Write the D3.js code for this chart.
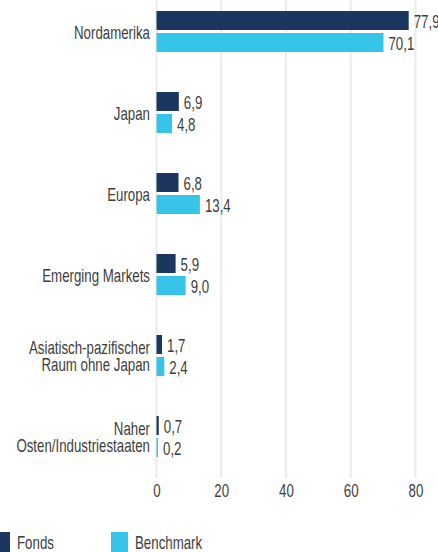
<!DOCTYPE html>
<html>
<head>
<meta charset="utf-8">
<script src="https://cdn.jsdelivr.net/npm/d3@7"></script>
<style>
  html, body { margin: 0; padding: 0; background: #fff; overflow: hidden; }
  svg { display: block; }
</style>
</head>
<body>
<div id="chart"></div>
<script>
// Regionen-Allokation Fonds vs. Benchmark (in %)
const categories = [
  ['Nordamerika'],
  ['Japan'],
  ['Europa'],
  ['Emerging Markets'],
  ['Asiatisch-pazifischer', 'Raum ohne Japan'],
  ['Naher', 'Osten/Industriestaaten']
];
const seriesNames = ['Fonds', 'Benchmark'];
const fondsValues = [77.9, 6.9, 6.8, 5.9, 1.7, 0.7];
const benchmarkValues = [70.1, 4.8, 13.4, 9.0, 2.4, 0.2];
const xTicks = [0, 20, 40, 60, 80];

const width = 438;
const height = 552;
const colors = { Fonds: '#1b365f', Benchmark: '#36c4e8' };
const font = '"Liberation Sans", Arial, sans-serif';
const squeeze = 0.7;   // the original uses a very condensed face

const svg = d3.select('#chart')
  .append('svg')
  .attr('width', width)
  .attr('height', height);

const keys = categories.map(d => d.join(' '));
const rows = keys.map((k, i) => ({ key: k, lines: categories[i], Fonds: fondsValues[i], Benchmark: benchmarkValues[i] }));

const x = d3.scaleLinear().domain([0, 80]).range([156.5, 415.5]);
const y = d3.scaleBand().domain(keys).range([11, 457]).paddingInner(40 / 81).paddingOuter(0);
const ySub = d3.scaleBand().domain(seriesNames).range([0, y.bandwidth()]).paddingInner(3 / 22);

// condensed text helper
function label(sel, tx, ty, str, anchor) {
  return sel.append('text')
    .attr('transform', `translate(${tx},${ty}) scale(${squeeze},1)`)
    .attr('text-anchor', anchor)
    .attr('fill', '#3d3d3d')
    .attr('font-size', '19px')
    .attr('font-family', font)
    .text(str);
}

// gridlines
svg.append('g')
  .selectAll('line')
  .data(xTicks)
  .join('line')
  .attr('x1', d => x(d)).attr('x2', d => x(d))
  .attr('y1', 0).attr('y2', 478)
  .attr('stroke', '#ebebeb')
  .attr('stroke-width', 2);

// x axis tick labels
const xAxis = d3.axisBottom(x).tickValues(xTicks).tickSize(0).tickPadding(0);
const gx = svg.append('g').attr('transform', 'translate(0,482)').call(xAxis);
gx.select('.domain').remove();
gx.selectAll('.tick text').remove();
gx.selectAll('.tick').each(function (d) {
  label(d3.select(this), 0, 15, String(d), 'middle');
});

// bars
const groups = svg.append('g')
  .selectAll('g')
  .data(rows)
  .join('g')
  .attr('transform', d => `translate(0,${y(d.key)})`);

groups.selectAll('rect')
  .data(d => seriesNames.map(s => ({ s, v: d[s] })))
  .join('rect')
  .attr('x', x(0))
  .attr('y', d => ySub(d.s))
  .attr('width', d => Math.max(1.5, x(d.v) - x(0)))
  .attr('height', ySub.bandwidth())
  .attr('fill', d => colors[d.s]);

const fmt = v => d3.format('.1f')(v).replace('.', ',');
groups.each(function (d) {
  const g = d3.select(this);
  seriesNames.forEach(s => {
    label(g, Math.max(x(d[s]), x(0) + 1.5) + 5, ySub(s) + ySub.bandwidth() / 2 + 7, fmt(d[s]), 'start');
  });
  // category labels
  const cy = y.bandwidth() / 2;
  const lh = 17;
  const n = d.lines.length;
  d.lines.forEach((t, i) => {
    label(g, 150, cy + 7 + (i - (n - 1) / 2) * lh, t, 'end');
  });
});

// legend
const legend = svg.append('g').attr('transform', 'translate(0,532)');
const legendItems = [{ s: 'Fonds', x: -7 }, { s: 'Benchmark', x: 111 }];
legendItems.forEach(it => {
  legend.append('rect')
    .attr('x', it.x).attr('y', 0)
    .attr('width', 17).attr('height', 20)
    .attr('fill', colors[it.s]);
  label(legend, it.x + 24, 17, it.s, 'start');
});
</script>
</body>
</html>
